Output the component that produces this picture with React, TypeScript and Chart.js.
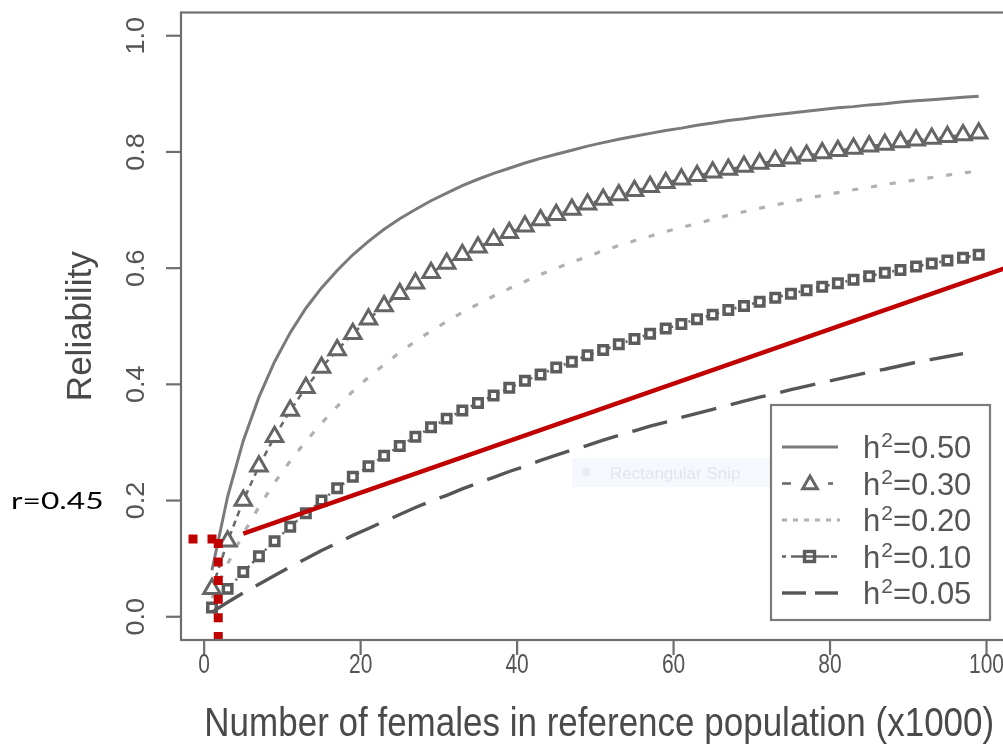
import React, { useEffect, useRef } from "react";
import { Chart, registerables } from "chart.js";

Chart.register(...registerables);

// ---------- data ----------
const X_VALUES = [
  1, 3, 5, 7, 9, 11, 13, 15, 17, 19, 21, 23, 25, 27, 29, 31, 33, 35, 37, 39,
  41, 43, 45, 47, 49, 51, 53, 55, 57, 59, 61, 63, 65, 67, 69, 71, 73, 75, 77, 79,
  81, 83, 85, 87, 89, 91, 93, 95, 97, 99,
];

const H2_050 = [
  0.08, 0.207, 0.303, 0.378, 0.439, 0.489, 0.531, 0.566, 0.596, 0.623,
  0.646, 0.667, 0.685, 0.701, 0.716, 0.729, 0.742, 0.753, 0.763, 0.772,
  0.781, 0.789, 0.796, 0.803, 0.81, 0.816, 0.822, 0.827, 0.832, 0.837,
  0.841, 0.846, 0.85, 0.854, 0.857, 0.861, 0.864, 0.867, 0.87, 0.873,
  0.876, 0.878, 0.881, 0.883, 0.886, 0.888, 0.89, 0.892, 0.894, 0.896,
];

const H2_030 = [
  0.048, 0.13, 0.2, 0.259, 0.31, 0.355, 0.394, 0.429, 0.459, 0.487,
  0.512, 0.535, 0.556, 0.574, 0.592, 0.608, 0.623, 0.636, 0.649, 0.661,
  0.672, 0.683, 0.692, 0.701, 0.71, 0.718, 0.726, 0.733, 0.74, 0.747,
  0.753, 0.759, 0.765, 0.77, 0.775, 0.78, 0.785, 0.789, 0.794, 0.798,
  0.802, 0.806, 0.81, 0.813, 0.817, 0.82, 0.823, 0.826, 0.829, 0.832,
];

const H2_020 = [
  0.032, 0.091, 0.143, 0.189, 0.231, 0.268, 0.302, 0.333, 0.362, 0.388,
  0.412, 0.434, 0.455, 0.474, 0.492, 0.508, 0.524, 0.538, 0.552, 0.565,
  0.577, 0.589, 0.6, 0.61, 0.62, 0.63, 0.639, 0.647, 0.655, 0.663,
  0.67, 0.677, 0.684, 0.691, 0.697, 0.703, 0.709, 0.714, 0.72, 0.725,
  0.73, 0.735, 0.739, 0.744, 0.748, 0.752, 0.756, 0.76, 0.764, 0.767,
];

const H2_010 = [
  0.016, 0.048, 0.077, 0.104, 0.13, 0.155, 0.178, 0.2, 0.221, 0.241,
  0.259, 0.277, 0.294, 0.31, 0.326, 0.341, 0.355, 0.368, 0.381, 0.394,
  0.406, 0.417, 0.429, 0.439, 0.45, 0.459, 0.469, 0.478, 0.487, 0.496,
  0.504, 0.512, 0.52, 0.528, 0.535, 0.542, 0.549, 0.556, 0.562, 0.568,
  0.574, 0.58, 0.586, 0.592, 0.597, 0.603, 0.608, 0.613, 0.618, 0.623,
];

const H2_005 = [
  0.008, 0.025, 0.041, 0.056, 0.071, 0.086, 0.1, 0.114, 0.127, 0.14,
  0.152, 0.164, 0.176, 0.188, 0.199, 0.209, 0.22, 0.23, 0.24, 0.25,
  0.259, 0.269, 0.278, 0.287, 0.295, 0.304, 0.312, 0.32, 0.328, 0.335,
  0.343, 0.35, 0.357, 0.364, 0.371, 0.378, 0.384, 0.391, 0.397, 0.403,
  0.409, 0.415, 0.421, 0.426, 0.432, 0.438, 0.443, 0.448, 0.453,
];

const SERIES_LABELS = ["h²=0.50", "h²=0.30", "h²=0.20", "h²=0.10", "h²=0.05"];
const LEGEND_VALUES = ["=0.50", "=0.30", "=0.20", "=0.10", "=0.05"];

const X_TICKS = [0, 20, 40, 60, 80, 100];
const X_TICK_LABELS = ["0", "20", "40", "60", "80", "100"];
const Y_TICKS = [0, 0.2, 0.4, 0.6, 0.8, 1.0];
const Y_TICK_LABELS = ["0.0", "0.2", "0.4", "0.6", "0.8", "1.0"];
const X_RANGE = [-2.96, 103.96];
const Y_RANGE = [-0.04, 1.04];

const X_TITLE = "Number of females in reference population (x1000)";
const Y_TITLE = "Reliability";

// red annotation (data coordinates)
const MARK_X = [1.8];
const MARK_Y = [0.134];
const MARK_H_START = [-2.0];
const RED_LINE_X = [5.0, 103.96];
const RED_LINE_Y = [0.143, 0.6075];
const ANNOT_LABEL = "r=0.45";
const SNIP_LABEL = "Rectangular Snip";

// ---------- styles ----------
const GREY_AXIS = "#6e6e6e";
const GREY_TEXT = "#555555";
const RED = "#c00000";
const CANVAS_W = 1030;
const CANVAS_H = 754;
const SANS = "'Liberation Sans', Arial, sans-serif";

function pts(xs: number[], ys: number[]) {
  return ys.map((y, i) => ({ x: xs[i], y }));
}

function drawText(
  ctx: CanvasRenderingContext2D,
  s: string,
  x: number,
  y: number,
  font: string,
  color: string,
  align: CanvasTextAlign,
  baseline: CanvasTextBaseline,
  rot = 0,
  sx = 1,
  sy = 1
) {
  ctx.save();
  ctx.translate(x, y);
  ctx.scale(sx, sy);
  ctx.rotate(rot);
  ctx.font = font;
  ctx.fillStyle = color;
  ctx.textAlign = align;
  ctx.textBaseline = baseline;
  ctx.fillText(s, 0, 0);
  ctx.restore();
}

function triangle(ctx: CanvasRenderingContext2D, cx: number, cy: number, r: number) {
  ctx.beginPath();
  ctx.moveTo(cx, cy - r);
  ctx.lineTo(cx + r * 0.866, cy + r * 0.5);
  ctx.lineTo(cx - r * 0.866, cy + r * 0.5);
  ctx.closePath();
}

const decorPlugin = {
  id: "rdecor",
  beforeDatasetsDraw(chart: any) {
    const ctx: CanvasRenderingContext2D = chart.ctx;
    ctx.save();
    // faint screenshot ghost
    ctx.fillStyle = "#f5f8fc";
    ctx.fillRect(572, 458, 200, 29);
    ctx.fillStyle = "#e6ecf3";
    ctx.beginPath();
    ctx.arc(586, 472, 4, 0, Math.PI * 2);
    ctx.fill();
    drawText(ctx, SNIP_LABEL, 610, 479, "17px " + SANS, "#e2e6ec", "left", "alphabetic");
    ctx.restore();
  },
  afterDraw(chart: any) {
    const ctx: CanvasRenderingContext2D = chart.ctx;
    const xs = chart.scales.x;
    const ys = chart.scales.y;
    const a = chart.chartArea;
    ctx.save();

    // plot box
    ctx.strokeStyle = GREY_AXIS;
    ctx.lineWidth = 2.2;
    ctx.setLineDash([]);
    ctx.strokeRect(a.left, a.top, a.right - a.left, a.bottom - a.top);

    // x axis ticks and labels
    X_TICKS.forEach((v, i) => {
      const px = xs.getPixelForValue(v);
      ctx.beginPath();
      ctx.moveTo(px, a.bottom);
      ctx.lineTo(px, a.bottom + 15);
      ctx.stroke();
      drawText(ctx, X_TICK_LABELS[i], px, 673, "21px " + SANS, GREY_TEXT, "center", "alphabetic", 0, 1, 1.35);
    });

    // y axis ticks and labels
    Y_TICKS.forEach((v, i) => {
      const py = ys.getPixelForValue(v);
      ctx.beginPath();
      ctx.moveTo(a.left - 15, py);
      ctx.lineTo(a.left, py);
      ctx.stroke();
      drawText(ctx, Y_TICK_LABELS[i], 144, py, "25px " + SANS, GREY_TEXT, "center", "alphabetic", -Math.PI / 2, 1, 1.08);
    });

    // axis titles
    const midX = xs.getPixelForValue((X_RANGE[0] + X_RANGE[1]) / 2);
    drawText(ctx, X_TITLE, midX, 736, "35px " + SANS, "#4a4a4a", "center", "alphabetic", 0, 1, 1.15);
    const midY = (a.top + a.bottom) / 2;
    drawText(ctx, Y_TITLE, 91, midY, "35px " + SANS, "#4a4a4a", "center", "alphabetic", -Math.PI / 2);

    // legend
    const lx0 = 771, ly0 = 405, lx1 = 990, ly1 = 620;
    ctx.fillStyle = "#ffffff";
    ctx.fillRect(lx0, ly0, lx1 - lx0, ly1 - ly0);
    ctx.strokeStyle = "#7a7a7a";
    ctx.lineWidth = 2.2;
    ctx.strokeRect(lx0, ly0, lx1 - lx0, ly1 - ly0);
    const rows = [447, 483.5, 520, 556.5, 593];
    const ds = chart.data.datasets;
    rows.forEach((ry, i) => {
      const d = ds[i + 3];
      ctx.strokeStyle = d.borderColor;
      ctx.lineWidth = Math.max(2.6, d.borderWidth);
      ctx.setLineDash([]);
      ctx.lineCap = "butt";
      if (i === 0) {
        ctx.beginPath(); ctx.moveTo(782, ry); ctx.lineTo(838, ry); ctx.stroke();
      } else if (i === 1) {
        ctx.beginPath(); ctx.moveTo(782, ry); ctx.lineTo(791, ry); ctx.stroke();
        ctx.beginPath(); ctx.moveTo(828, ry); ctx.lineTo(833, ry); ctx.stroke();
        ctx.lineWidth = 3;
        ctx.strokeStyle = d.pointBorderColor;
        triangle(ctx, 810, ry + 1, 8.5);
        ctx.stroke();
      } else if (i === 2) {
        ctx.setLineDash([5, 6]);
        ctx.beginPath(); ctx.moveTo(782, ry); ctx.lineTo(840, ry); ctx.stroke();
        ctx.setLineDash([]);
      } else if (i === 3) {
        ctx.beginPath(); ctx.moveTo(782, ry); ctx.lineTo(786, ry); ctx.stroke();
        ctx.beginPath(); ctx.moveTo(791, ry); ctx.lineTo(829, ry); ctx.stroke();
        ctx.beginPath(); ctx.moveTo(831, ry); ctx.lineTo(837, ry); ctx.stroke();
        ctx.lineWidth = 3.4;
        ctx.strokeStyle = d.pointBorderColor;
        ctx.strokeRect(804.5, ry - 5, 10, 10);
      } else {
        ctx.beginPath(); ctx.moveTo(782, ry); ctx.lineTo(806, ry); ctx.stroke();
        ctx.beginPath(); ctx.moveTo(815, ry); ctx.lineTo(838, ry); ctx.stroke();
      }
      // h^2=value with a real superscript
      ctx.font = "31px " + SANS;
      ctx.fillStyle = GREY_TEXT;
      ctx.textAlign = "left";
      ctx.textBaseline = "alphabetic";
      const base = ry + 11;
      ctx.fillText("h", 863, base);
      const hw = ctx.measureText("h").width;
      ctx.font = "21px " + SANS;
      ctx.fillText("2", 863 + hw + 1, base - 11);
      const sw = ctx.measureText("2").width;
      ctx.font = "31px " + SANS;
      ctx.fillText(LEGEND_VALUES[i], 863 + hw + sw + 1, base);
    });

    // annotation label
    drawText(ctx, ANNOT_LABEL, 11, 509, "24px Lato, 'Open Sans', sans-serif", "#000000", "left", "alphabetic", 0, 1.32, 0.98);

    ctx.restore();
  },
};

export default function App() {
  const ref = useRef<HTMLCanvasElement | null>(null);

  useEffect(() => {
    if (!ref.current) return;
    const chart = new Chart(ref.current, {
      type: "line",
      data: {
        datasets: [
          // red annotations (drawn on top)
          {
            label: "mark-h",
            data: [{ x: MARK_H_START[0], y: MARK_Y[0] }, { x: MARK_X[0], y: MARK_Y[0] }],
            borderColor: RED,
            borderWidth: 9,
            borderDash: [9, 10],
            pointRadius: 0,
            order: 0,
          } as any,
          {
            label: "mark-v",
            data: [{ x: MARK_X[0], y: MARK_Y[0] }, { x: MARK_X[0], y: Y_RANGE[0] }],
            borderColor: RED,
            borderWidth: 9,
            borderDash: [9, 9.6],
            pointRadius: 0,
            order: 0,
          } as any,
          {
            label: "red-line",
            data: pts(RED_LINE_X, RED_LINE_Y),
            borderColor: RED,
            borderWidth: 4.5,
            pointRadius: 0,
            order: 1,
          } as any,
          {
            label: SERIES_LABELS[0],
            data: pts(X_VALUES, H2_050),
            borderColor: "#7a7a7a",
            borderWidth: 3,
            pointRadius: 0,
            order: 6,
          } as any,
          {
            label: SERIES_LABELS[1],
            data: pts(X_VALUES, H2_030),
            borderColor: "#6a6a6a",
            borderWidth: 2.6,
            borderDash: [6, 5],
            pointStyle: "triangle",
            pointRadius: 9.5,
            pointBorderWidth: 3,
            pointBorderColor: "#656565",
            pointBackgroundColor: "#ffffff",
            order: 4,
          } as any,
          {
            label: SERIES_LABELS[2],
            data: pts(X_VALUES, H2_020),
            borderColor: "#b0b0b0",
            borderWidth: 3.2,
            borderDash: [6, 13],
            pointRadius: 0,
            order: 5,
          } as any,
          {
            label: SERIES_LABELS[3],
            data: pts(X_VALUES, H2_010),
            borderColor: "#666666",
            borderWidth: 2.6,
            borderDash: [2, 4],
            pointStyle: "rect",
            pointRadius: 6,
            pointBorderWidth: 3.5,
            pointBorderColor: "#5c5c5c",
            pointBackgroundColor: "#ffffff",
            order: 3,
          } as any,
          {
            label: SERIES_LABELS[4],
            data: pts(X_VALUES, H2_005),
            borderColor: "#565656",
            borderWidth: 3.4,
            borderDash: [36, 15],
            pointRadius: 0,
            order: 2,
          } as any,
        ],
      },
      options: {
        responsive: false,
        animation: false,
        devicePixelRatio: 1,
        layout: { padding: { left: 181, top: 5, right: CANVAS_W - 1018, bottom: CANVAS_H - 640 } },
        scales: {
          x: { type: "linear", min: X_RANGE[0], max: X_RANGE[1], display: false },
          y: { type: "linear", min: Y_RANGE[0], max: Y_RANGE[1], display: false },
        },
        plugins: {
          legend: { display: false },
          tooltip: { enabled: false },
        },
        elements: { line: { tension: 0, borderCapStyle: "butt" } },
      } as any,
      plugins: [decorPlugin],
    });
    return () => chart.destroy();
  }, []);

  return (
    <div
      style={{
        position: "fixed",
        left: 0,
        top: 0,
        width: 1003,
        height: 754,
        overflow: "hidden",
        background: "#ffffff",
      }}
    >
      <canvas ref={ref} width={CANVAS_W} height={CANVAS_H} style={{ display: "block" }} />
    </div>
  );
}
